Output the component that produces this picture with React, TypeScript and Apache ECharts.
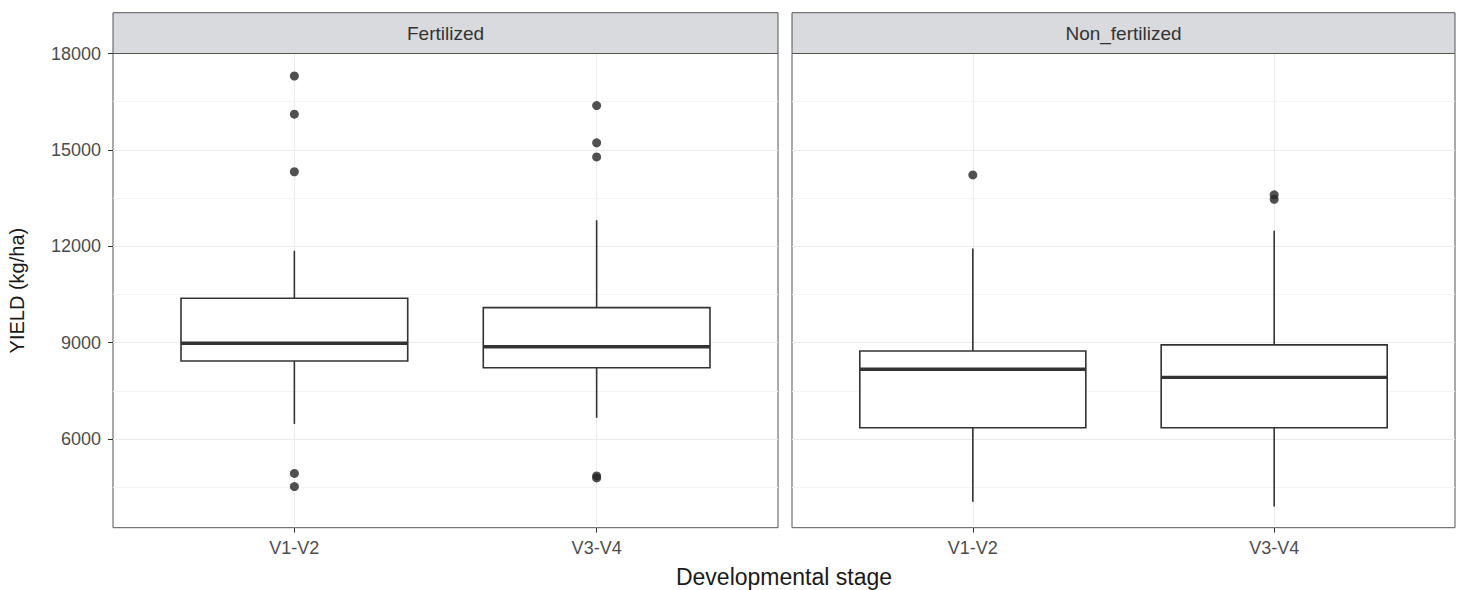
import React, { useEffect, useRef } from 'react';
import * as echarts from 'echarts';

// ---------- data ----------
const categories = ['V1-V2', 'V3-V4'];
const panelNames = ['Fertilized', 'Non_fertilized'];
// [lower whisker, Q1, median, Q3, upper whisker]
const fertilizedBoxes = [
  [6470, 8430, 8980, 10380, 11860],
  [6660, 8220, 8870, 10090, 12810],
];
const nonFertilizedBoxes = [
  [4050, 6350, 8170, 8740, 11930],
  [3900, 6350, 7920, 8930, 12480],
];
const fertilizedOutliers = [
  [17300, 16110, 14320, 4930, 4520],
  [16380, 15220, 14780, 4850, 4790],
];
const nonFertilizedOutliers = [
  [14220],
  [13600, 13460],
];
const yMajorTicks = [6000, 9000, 12000, 15000, 18000];
const yMinorTicks = [4500, 7500, 10500, 13500, 16500];
const yMin = 3240;
const yMax = 18000;
const xMin = 0.4;
const xMax = 2.6;

// ---------- layout ----------
const STRIP_TOP = 12.7;
const PANEL_TOP = 53.5;
const PANEL_BOTTOM = 527.7;
const PANELS_X = [113, 792];
const PANELS_W = [665, 663];
const BOX_HALF = 0.375;
const FONT = '"Liberation Sans", Arial, Helvetica, sans-serif';
const INK = '#333333';

export default function App() {
  const ref = useRef<HTMLDivElement>(null);

  useEffect(() => {
    if (!ref.current) return;
    const chart = echarts.init(ref.current, null, { renderer: 'svg' });

    const boxesByPanel = [fertilizedBoxes, nonFertilizedBoxes];
    const outliersByPanel = [fertilizedOutliers, nonFertilizedOutliers];

    const grids: any[] = [];
    const xAxes: any[] = [];
    const yAxes: any[] = [];
    const series: any[] = [];
    const graphics: any[] = [];

    panelNames.forEach((name, p) => {
      grids.push({
        left: PANELS_X[p],
        top: PANEL_TOP,
        width: PANELS_W[p],
        height: PANEL_BOTTOM - PANEL_TOP,
        show: true,
        backgroundColor: '#ffffff',
        borderColor: '#555555',
        borderWidth: 1,
        containLabel: false,
      });
      xAxes.push({
        type: 'value',
        gridIndex: p,
        min: xMin,
        max: xMax,
        axisLine: { show: false },
        axisTick: {
          show: true,
          length: 5,
          customValues: [1, 2],
          lineStyle: { color: INK, width: 1 },
        },
        axisLabel: {
          show: true,
          customValues: [1, 2],
          formatter: (v: number) => categories[Math.round(v) - 1] ?? '',
          color: '#4d4d4d',
          fontSize: 18,
          fontFamily: FONT,
          margin: 11,
        },
        splitLine: { show: true, lineStyle: { color: '#ebebeb', width: 1 } },
      });
      yAxes.push({
        type: 'value',
        gridIndex: p,
        min: yMin,
        max: yMax,
        axisLine: { show: false },
        axisTick: {
          show: p === 0,
          length: 5,
          customValues: yMajorTicks,
          lineStyle: { color: INK, width: 1 },
        },
        axisLabel: {
          show: p === 0,
          customValues: yMajorTicks,
          formatter: (v: number) => String(v),
          color: '#4d4d4d',
          fontSize: 18,
          fontFamily: FONT,
          margin: 12,
        },
        splitLine: { show: true, lineStyle: { color: '#ebebeb', width: 1 } },
      });

      // minor grid lines
      series.push({
        type: 'line',
        xAxisIndex: p,
        yAxisIndex: p,
        data: [],
        silent: true,
        z: 1,
        markLine: {
          silent: true,
          z: 1,
          symbol: ['none', 'none'],
          label: { show: false },
          lineStyle: { color: '#f4f4f4', width: 1, type: 'solid' },
          data: yMinorTicks.map((v) => ({ yAxis: v })),
        },
      });

      // boxes
      series.push({
        type: 'custom',
        xAxisIndex: p,
        yAxisIndex: p,
        z: 3,
        silent: true,
        encode: { x: 0, y: [1, 2, 3, 4, 5] },
        data: boxesByPanel[p].map((b, i) => [i + 1, ...b]),
        renderItem: (params: any, api: any) => {
          const x = api.value(0);
          const lo = api.value(1);
          const q1 = api.value(2);
          const med = api.value(3);
          const q3 = api.value(4);
          const hi = api.value(5);
          const top = api.coord([x, hi]);
          const q3c = api.coord([x, q3]);
          const q1c = api.coord([x, q1]);
          const bot = api.coord([x, lo]);
          const tl = api.coord([x - BOX_HALF, q3]);
          const br = api.coord([x + BOX_HALF, q1]);
          const ml = api.coord([x - BOX_HALF, med]);
          const mr = api.coord([x + BOX_HALF, med]);
          return {
            type: 'group',
            children: [
              {
                type: 'line',
                shape: { x1: top[0], y1: top[1], x2: q3c[0], y2: q3c[1] },
                style: { stroke: INK, lineWidth: 1.6 },
              },
              {
                type: 'line',
                shape: { x1: q1c[0], y1: q1c[1], x2: bot[0], y2: bot[1] },
                style: { stroke: INK, lineWidth: 1.6 },
              },
              {
                type: 'rect',
                shape: { x: tl[0], y: tl[1], width: br[0] - tl[0], height: br[1] - tl[1] },
                style: { fill: '#ffffff', stroke: INK, lineWidth: 1.6 },
              },
              {
                type: 'line',
                shape: { x1: ml[0], y1: ml[1], x2: mr[0], y2: mr[1] },
                style: { stroke: INK, lineWidth: 3.4 },
              },
            ],
          };
        },
      });

      // outliers
      const pts: number[][] = [];
      outliersByPanel[p].forEach((arr, i) => arr.forEach((v) => pts.push([i + 1, v])));
      series.push({
        type: 'scatter',
        xAxisIndex: p,
        yAxisIndex: p,
        z: 4,
        silent: true,
        symbol: 'circle',
        symbolSize: 9,
        itemStyle: { color: '#262626' },
        data: pts,
      });

      // strip
      graphics.push({
        type: 'rect',
        shape: { x: PANELS_X[p], y: STRIP_TOP, width: PANELS_W[p], height: PANEL_TOP - STRIP_TOP },
        style: { fill: '#d9dadd', stroke: '#555555', lineWidth: 1 },
        z: 10,
      });
      graphics.push({
        type: 'text',
        x: PANELS_X[p] + PANELS_W[p] / 2,
        y: (STRIP_TOP + PANEL_TOP) / 2,
        style: {
          text: name,
          fill: '#333333',
          fontSize: 19,
          fontFamily: FONT,
          align: 'center',
          verticalAlign: 'middle',
        },
        z: 11,
      });
    });

    // axis titles
    graphics.push({
      type: 'text',
      x: (PANELS_X[0] + PANELS_X[1] + PANELS_W[1]) / 2,
      y: 577,
      style: {
        text: 'Developmental stage',
        fill: '#1a1a1a',
        fontSize: 23,
        fontFamily: FONT,
        align: 'center',
        verticalAlign: 'middle',
      },
      z: 11,
    });
    graphics.push({
      type: 'text',
      x: 17,
      y: (PANEL_TOP + PANEL_BOTTOM) / 2,
      rotation: Math.PI / 2,
      style: {
        text: 'YIELD (kg/ha)',
        fill: '#1a1a1a',
        fontSize: 20,
        fontFamily: FONT,
        align: 'center',
        verticalAlign: 'middle',
      },
      z: 11,
    });

    chart.setOption({
      animation: false,
      backgroundColor: '#ffffff',
      grid: grids,
      xAxis: xAxes,
      yAxis: yAxes,
      series,
      graphic: { elements: graphics },
    });

    return () => chart.dispose();
  }, []);

  return (
    <div
      ref={ref}
      style={{ position: 'fixed', left: 0, top: 0, width: 1461, height: 590 }}
    />
  );
}
